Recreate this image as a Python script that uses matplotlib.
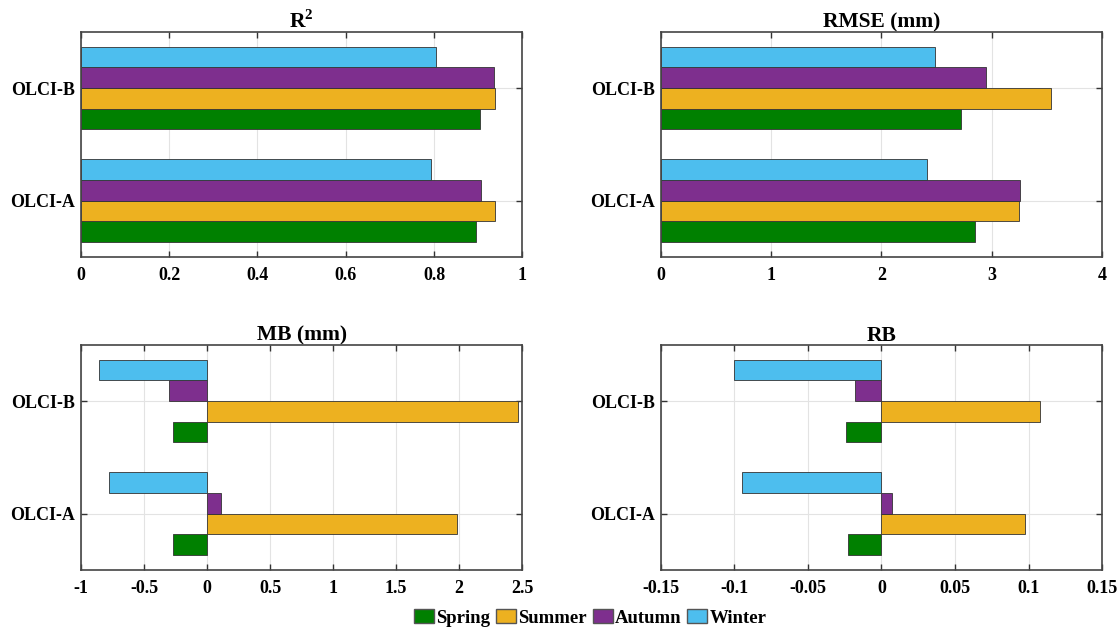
import numpy as np
import matplotlib.pyplot as plt
from matplotlib.patches import Patch

plt.rcParams['font.family'] = ['Liberation Serif', 'DejaVu Serif']
plt.rcParams['font.weight'] = 'bold'
plt.rcParams['mathtext.fontset'] = 'custom'
plt.rcParams['mathtext.rm'] = 'Liberation Serif:bold'
plt.rcParams['mathtext.bf'] = 'Liberation Serif:bold'

# data ---------------------------------------------------------------
sensors = ['OLCI-A', 'OLCI-B']
seasons = ['Spring', 'Summer', 'Autumn', 'Winter']
colors = ['#008000', '#EDB120', '#7E2F8E', '#4DBEEE']

# rows = sensors (A, B), columns = seasons
r2 = [[0.896, 0.939, 0.906, 0.794],
      [0.905, 0.939, 0.935, 0.805]]
rmse = [[2.85, 3.25, 3.26, 2.41],
        [2.72, 3.54, 2.95, 2.49]]
mb = [[-0.27, 1.98, 0.11, -0.78],
      [-0.27, 2.47, -0.30, -0.86]]
rb = [[-0.023, 0.0975, 0.0075, -0.095],
      [-0.024, 0.108, -0.018, -0.1005]]

titles = ['R$^\\mathbf{2}$', 'RMSE (mm)', 'MB (mm)', 'RB']
xlims = [(0, 1), (0, 4), (-1, 2.5), (-0.15, 0.15)]
xticks = [[0, 0.2, 0.4, 0.6, 0.8, 1],
          [0, 1, 2, 3, 4],
          [-1, -0.5, 0, 0.5, 1, 1.5, 2, 2.5],
          [-0.15, -0.1, -0.05, 0, 0.05, 0.1, 0.15]]
xticklabels = [['0', '0.2', '0.4', '0.6', '0.8', '1'],
               ['0', '1', '2', '3', '4'],
               ['-1', '-0.5', '0', '0.5', '1', '1.5', '2', '2.5'],
               ['-0.15', '-0.1', '-0.05', '0', '0.05', '0.1', '0.15']]
datas = [r2, rmse, mb, rb]

# figure --------------------------------------------------------------
fig = plt.figure(figsize=(11.2, 6.29), dpi=100)
pos = [[0.0723, 0.5914, 0.394, 0.358],
       [0.590, 0.5914, 0.394, 0.358],
       [0.0723, 0.0938, 0.394, 0.358],
       [0.590, 0.0938, 0.394, 0.358]]

bh = 0.183
offs = [-0.275, -0.092, 0.092, 0.275]
y = np.arange(1, len(sensors) + 1)

for k in range(4):
    ax = fig.add_axes(pos[k])
    d = np.array(datas[k])
    for j in range(len(seasons)):
        ax.barh(y + offs[j], d[:, j], height=bh, color=colors[j],
                edgecolor='#333333', linewidth=0.6, zorder=3)
    ax.set_xlim(xlims[k])
    ax.set_ylim(0.5, 2.5)
    ax.set_xticks(xticks[k])
    ax.set_xticklabels(xticklabels[k])
    ax.set_yticks(y)
    ax.set_yticklabels(sensors)
    ax.grid(True, color='#e3e3e3', linewidth=0.8, zorder=0)
    ax.tick_params(direction='in', top=True, right=True, labelsize=13,
                   length=4, width=1, color='#333333')
    ax.tick_params(axis='x', pad=7)
    ax.tick_params(axis='y', pad=4)
    for s in ax.spines.values():
        s.set_color('#444444')
        s.set_linewidth(1.2)
        s.set_zorder(4)
    ax.set_title(titles[k], fontsize=15.5, fontweight='bold', pad=3)

handles = [Patch(facecolor=colors[j], edgecolor='#555555', label=seasons[j])
           for j in range(len(seasons))]
fig.legend(handles=handles, loc='lower center', ncol=4, frameon=False,
           bbox_to_anchor=(0.527, -0.02), fontsize=13.5, handlelength=1.07,
           handleheight=0.8, handletextpad=0.12, columnspacing=0.3,
           borderpad=0.3)

plt.savefig('out.png', dpi=100)
